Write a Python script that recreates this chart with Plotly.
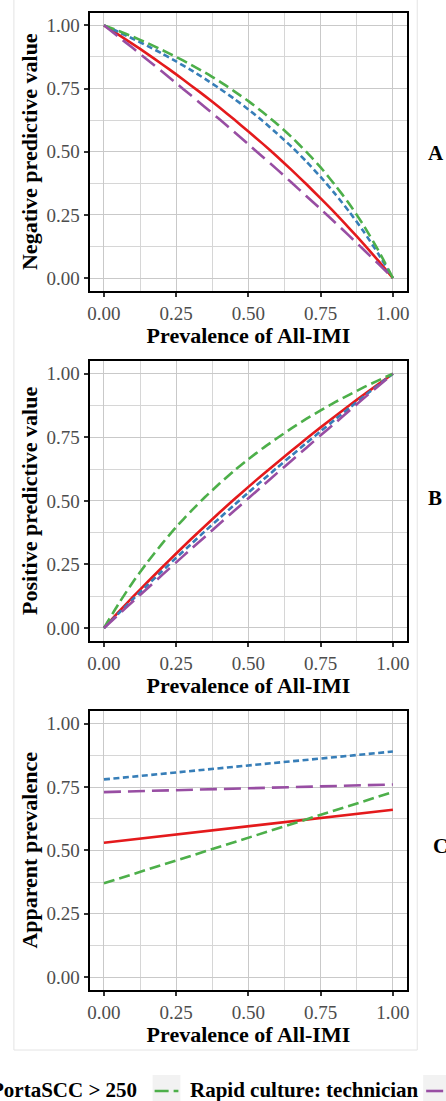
import plotly.graph_objects as go

# ---------------- data ----------------
prevalence = [0.00, 0.05, 0.10, 0.15, 0.20, 0.25, 0.30, 0.35, 0.40, 0.45, 0.50,
              0.55, 0.60, 0.65, 0.70, 0.75, 0.80, 0.85, 0.90, 0.95, 1.00]

series_names = ["California Mastitis Test", "PortaSCC > 250",
                "Rapid culture: technician", "Rapid culture: producer"]
series_colors = ["#E41A1C", "#377EB8", "#4DAF4A", "#984EA3"]
series_dash = ["solid", "6px,3.5px", "11px,5px", "17px,7px"]

# Panel A: negative predictive value
npv_red = [1.000, 0.963, 0.926, 0.887, 0.847, 0.806, 0.763, 0.720, 0.675, 0.628, 0.580,
           0.531, 0.480, 0.427, 0.372, 0.315, 0.257, 0.196, 0.133, 0.068, 0.000]
npv_blue = [1.000, 0.974, 0.947, 0.919, 0.889, 0.857, 0.824, 0.788, 0.750, 0.710, 0.667,
            0.621, 0.571, 0.519, 0.462, 0.400, 0.333, 0.261, 0.182, 0.095, 0.000]
npv_green = [1.000, 0.978, 0.955, 0.930, 0.903, 0.875, 0.845, 0.813, 0.778, 0.740, 0.700,
             0.656, 0.609, 0.557, 0.500, 0.438, 0.368, 0.292, 0.206, 0.109, 0.000]
npv_purple = [1.000, 0.955, 0.910, 0.864, 0.818, 0.771, 0.724, 0.676, 0.628, 0.579, 0.529,
              0.479, 0.429, 0.377, 0.325, 0.273, 0.220, 0.166, 0.111, 0.056, 0.000]

# Panel B: positive predictive value
ppv_red = [0.000, 0.062, 0.122, 0.180, 0.237, 0.293, 0.348, 0.401, 0.454, 0.505, 0.555,
           0.604, 0.651, 0.698, 0.744, 0.789, 0.833, 0.876, 0.918, 0.959, 1.000]
ppv_blue = [0.000, 0.057, 0.113, 0.168, 0.222, 0.276, 0.328, 0.381, 0.432, 0.483, 0.533,
            0.582, 0.631, 0.679, 0.727, 0.774, 0.820, 0.866, 0.911, 0.956, 1.000]
ppv_green = [0.000, 0.094, 0.180, 0.258, 0.330, 0.397, 0.458, 0.515, 0.568, 0.618, 0.664,
             0.707, 0.747, 0.786, 0.822, 0.856, 0.888, 0.918, 0.947, 0.974, 1.000]
ppv_purple = [0.000, 0.052, 0.104, 0.155, 0.207, 0.258, 0.309, 0.359, 0.410, 0.460, 0.510,
              0.560, 0.610, 0.659, 0.708, 0.758, 0.806, 0.855, 0.904, 0.952, 1.000]

# Panel C: apparent prevalence (straight lines)
ap_prevalence = [0.00, 1.00]
ap_red = [0.53, 0.66]
ap_blue = [0.78, 0.89]
ap_green = [0.37, 0.73]
ap_purple = [0.73, 0.76]

tick_values = [0.00, 0.25, 0.50, 0.75, 1.00]
minor_values = [0.125, 0.375, 0.625, 0.875]
x_title = "Prevalence of All-IMI"
y_titles = ["Negative predictive value", "Positive predictive value", "Apparent prevalence"]
panel_labels = ["A", "B", "C"]

# ---------------- layout helpers ----------------
W, H = 446, 1101
def fx(px):
    return px / W
def fy(py):
    return 1 - py / H

SERIF = "Liberation Serif"
panels = [
    (prevalence, [npv_red, npv_blue, npv_green, npv_purple]),
    (prevalence, [ppv_red, ppv_blue, ppv_green, ppv_purple]),
    (ap_prevalence, [ap_red, ap_blue, ap_green, ap_purple]),
]
panel_tops = [12.7, 361.0, 711.0]
panel_bottoms = [290.7, 640.7, 989.7]
label_centers = [153, 498, 846]
label_lefts = [427.5, 427.5, 432.5]

fig = go.Figure()
for i, (xs, ys_list) in enumerate(panels):
    suffix = "" if i == 0 else str(i + 1)
    for name, color, dash, ys in zip(series_names, series_colors, series_dash, ys_list):
        fig.add_trace(go.Scatter(
            x=xs, y=ys, mode="lines", name=name, showlegend=False,
            line=dict(color=color, width=2.6, dash=dash, shape="spline", smoothing=0.6),
            xaxis="x" + suffix, yaxis="y" + suffix,
        ))

axis_common = dict(
    range=[-0.05, 1.05], showline=True, mirror=True, linecolor="black", linewidth=2,
    ticks="outside", ticklen=4, tickwidth=1.5, tickcolor="#333333",
    tickvals=tick_values, tickformat=".2f",
    tickfont=dict(family=SERIF, size=19, color="#4d4d4d"),
    showgrid=True, gridcolor="#c9c9c9", gridwidth=1.2, zeroline=False,
    minor=dict(tickvals=minor_values, showgrid=True, gridcolor="#d6d6d6", gridwidth=0.9, ticks=""),
    fixedrange=True,
)

layout = dict(
    width=W, height=H, margin=dict(l=0, r=0, t=0, b=0),
    paper_bgcolor="white", plot_bgcolor="white", showlegend=False,
)
for i in range(3):
    suffix = "" if i == 0 else str(i + 1)
    ydom = [fy(panel_bottoms[i]), fy(panel_tops[i])]
    layout["xaxis" + suffix] = dict(
        axis_common, domain=[fx(88.3), fx(409.0)], anchor="y" + suffix,
        title=dict(text=x_title, standoff=2,
                   font=dict(family=SERIF, size=22, color="black", weight="bold")),
    )
    layout["yaxis" + suffix] = dict(
        axis_common, domain=ydom, anchor="x" + suffix,
        title=dict(text=y_titles[i], standoff=3,
                   font=dict(family=SERIF, size=22, color="black", weight="bold")),
    )
fig.update_layout(**layout)

shapes = []
annotations = []
# composite frame
shapes.append(dict(type="rect", xref="paper", yref="paper", x0=fx(12), x1=fx(419),
                   y0=fy(1050), y1=fy(-3), line=dict(color="#e4e4e4", width=1), layer="below"))
# panel letters
for lab, yc, xl in zip(panel_labels, label_centers, label_lefts):
    annotations.append(dict(text=lab, xref="paper", yref="paper", x=fx(xl), y=fy(yc),
                            xanchor="left", yanchor="middle", showarrow=False,
                            font=dict(family=SERIF, size=21, color="black", weight="bold")))
# legend (partly cut off at the canvas edges, as in the reference)
leg_y = 1090
annotations.append(dict(text=series_names[1], xref="paper", yref="paper", x=fx(138), y=fy(leg_y),
                        xanchor="right", yanchor="middle", showarrow=False,
                        font=dict(family=SERIF, size=21, color="black", weight="bold")))
annotations.append(dict(text=series_names[2], xref="paper", yref="paper", x=fx(188), y=fy(leg_y),
                        xanchor="left", yanchor="middle", showarrow=False,
                        font=dict(family=SERIF, size=21, color="black", weight="bold")))
for (kx0, kx1, lx0, lx1, idx) in [(152, 180, 154, 178, 2), (425, 453, 428, 452, 3)]:
    shapes.append(dict(type="rect", xref="paper", yref="paper", x0=fx(kx0), x1=fx(kx1),
                       y0=fy(1107), y1=fy(1075), fillcolor="#f2f2f2", line=dict(width=0)))
    shapes.append(dict(type="line", xref="paper", yref="paper", x0=fx(lx0), x1=fx(lx1),
                       y0=fy(leg_y + 1), y1=fy(leg_y + 1),
                       line=dict(color=series_colors[idx], width=2.6,
                                 dash="14px,5px" if idx == 2 else series_dash[idx])))
fig.update_layout(shapes=shapes, annotations=annotations)

fig.write_html(
    "out.html",
    config={"displayModeBar": False},
    post_script="document.body.style.margin='0';document.body.style.overflow='hidden';"
                "document.documentElement.style.overflow='hidden';",
)
